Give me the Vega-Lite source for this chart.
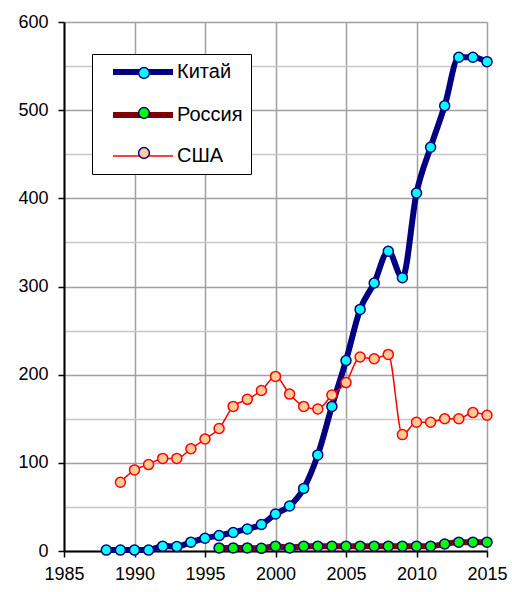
{
  "$schema": "https://vega.github.io/schema/vega-lite/v6.json",
  "width": 423,
  "height": 529,
  "autosize": {"type": "none"},
  "padding": {"left": 64, "top": 22, "right": 25, "bottom": 41},
  "background": "white",
  "config": {
    "view": {"stroke": null},
    "font": "Liberation Sans",
    "axis": {"labelFont": "Liberation Sans", "labelFontSize": 18, "labelColor": "black", "domainColor": "black", "domainWidth": 2, "tickColor": "black", "tickWidth": 1.5, "tickSize": 6, "title": null}
  },
  "data": {"values": [
    {"year": 1988, "series": "Китай", "value": 1},
    {"year": 1989, "series": "Китай", "value": 1},
    {"year": 1990, "series": "Китай", "value": 1},
    {"year": 1991, "series": "Китай", "value": 1},
    {"year": 1992, "series": "Китай", "value": 5.5},
    {"year": 1993, "series": "Китай", "value": 5},
    {"year": 1994, "series": "Китай", "value": 10},
    {"year": 1995, "series": "Китай", "value": 14.5},
    {"year": 1996, "series": "Китай", "value": 17.5},
    {"year": 1997, "series": "Китай", "value": 21},
    {"year": 1998, "series": "Китай", "value": 25},
    {"year": 1999, "series": "Китай", "value": 30},
    {"year": 2000, "series": "Китай", "value": 42},
    {"year": 2001, "series": "Китай", "value": 51},
    {"year": 2002, "series": "Китай", "value": 71},
    {"year": 2003, "series": "Китай", "value": 109},
    {"year": 2004, "series": "Китай", "value": 164},
    {"year": 2005, "series": "Китай", "value": 216},
    {"year": 2006, "series": "Китай", "value": 274},
    {"year": 2007, "series": "Китай", "value": 304},
    {"year": 2008, "series": "Китай", "value": 340},
    {"year": 2009, "series": "Китай", "value": 310},
    {"year": 2010, "series": "Китай", "value": 406},
    {"year": 2011, "series": "Китай", "value": 458},
    {"year": 2012, "series": "Китай", "value": 505},
    {"year": 2013, "series": "Китай", "value": 560},
    {"year": 2014, "series": "Китай", "value": 560},
    {"year": 2015, "series": "Китай", "value": 555},
    {"year": 1996, "series": "Россия", "value": 3.5},
    {"year": 1997, "series": "Россия", "value": 3.5},
    {"year": 1998, "series": "Россия", "value": 3.5},
    {"year": 1999, "series": "Россия", "value": 3},
    {"year": 2000, "series": "Россия", "value": 5.5},
    {"year": 2001, "series": "Россия", "value": 3.5},
    {"year": 2002, "series": "Россия", "value": 5.5},
    {"year": 2003, "series": "Россия", "value": 5.5},
    {"year": 2004, "series": "Россия", "value": 5.5},
    {"year": 2005, "series": "Россия", "value": 5.5},
    {"year": 2006, "series": "Россия", "value": 5.5},
    {"year": 2007, "series": "Россия", "value": 5.5},
    {"year": 2008, "series": "Россия", "value": 5.5},
    {"year": 2009, "series": "Россия", "value": 5.5},
    {"year": 2010, "series": "Россия", "value": 5.5},
    {"year": 2011, "series": "Россия", "value": 5.5},
    {"year": 2012, "series": "Россия", "value": 8},
    {"year": 2013, "series": "Россия", "value": 10},
    {"year": 2014, "series": "Россия", "value": 10},
    {"year": 2015, "series": "Россия", "value": 10},
    {"year": 1989, "series": "США", "value": 78},
    {"year": 1990, "series": "США", "value": 92},
    {"year": 1991, "series": "США", "value": 98},
    {"year": 1992, "series": "США", "value": 105},
    {"year": 1993, "series": "США", "value": 105},
    {"year": 1994, "series": "США", "value": 116},
    {"year": 1995, "series": "США", "value": 127},
    {"year": 1996, "series": "США", "value": 139},
    {"year": 1997, "series": "США", "value": 164},
    {"year": 1998, "series": "США", "value": 172},
    {"year": 1999, "series": "США", "value": 182},
    {"year": 2000, "series": "США", "value": 198},
    {"year": 2001, "series": "США", "value": 178},
    {"year": 2002, "series": "США", "value": 164},
    {"year": 2003, "series": "США", "value": 161},
    {"year": 2004, "series": "США", "value": 177},
    {"year": 2005, "series": "США", "value": 191},
    {"year": 2006, "series": "США", "value": 220},
    {"year": 2007, "series": "США", "value": 218},
    {"year": 2008, "series": "США", "value": 223},
    {"year": 2009, "series": "США", "value": 132},
    {"year": 2010, "series": "США", "value": 146},
    {"year": 2011, "series": "США", "value": 146},
    {"year": 2012, "series": "США", "value": 150},
    {"year": 2013, "series": "США", "value": 150},
    {"year": 2014, "series": "США", "value": 157},
    {"year": 2015, "series": "США", "value": 154}
  ]},
  "encoding": {
    "x": {"field": "year", "type": "quantitative",
      "scale": {"domain": [1985, 2015], "nice": false, "zero": false},
      "axis": {"values": [1985, 1990, 1995, 2000, 2005, 2010, 2015], "format": "d", "grid": true, "gridColor": "#a0a0a0", "gridWidth": 1.5, "labelPadding": 8, "labelFlush": false}},
    "y": {"field": "value", "type": "quantitative",
      "scale": {"domain": [0, 600], "nice": false},
      "axis": {"values": [0, 50, 100, 150, 200, 250, 300, 350, 400, 450, 500, 550, 600],
        "labelExpr": "datum.value % 100 === 0 ? datum.label : ''",
        "grid": true,
        "gridColor": {"condition": {"test": "datum.value % 100 === 0", "value": "#a0a0a0"}, "value": "#c8c8c8"},
        "gridWidth": 1.5,
        "tickOpacity": {"condition": {"test": "datum.value % 100 === 0", "value": 1}, "value": 0},
        "labelPadding": 10, "labelFlush": false}}
  },
  "layer": [
    {
      "mark": {"type": "line", "interpolate": "monotone"},
      "encoding": {
        "color": {"field": "series", "type": "nominal",
          "scale": {"domain": ["Китай", "Россия", "США"], "range": ["#000080", "#800000", "#ff0000"]},
          "legend": {"orient": "none", "legendX": 28, "legendY": 32, "title": null,
            "symbolType": "M-3,0H3", "symbolSize": 400, "rowPadding": 19,
            "padding": 8, "symbolOffset": 33, "labelOffset": 24,
            "labelFont": "Liberation Sans", "labelFontSize": 20, "labelColor": "black",
            "labelExpr": "datum.label + '   '",
            "strokeColor": "black", "fillColor": "white",
            "encode": {"symbols": {"update": {"strokeWidth": {"signal": "datum.value === 'США' ? 1.5 : 6"}}}}}},
        "strokeWidth": {"condition": {"test": "datum.series === 'США'", "value": 1.5}, "value": 6}
      }
    },
    {
      "mark": {"type": "point", "filled": true, "size": 100, "strokeWidth": 1.5, "opacity": 1},
      "encoding": {
        "fill": {"field": "series", "type": "nominal",
          "scale": {"range": ["#00ffff", "#00ff00", "#ffcc99"]},
          "legend": {"orient": "none", "legendX": 28, "legendY": 32, "title": null,
            "symbolType": "M-0.54,0A0.54,0.54,0,1,1,0.54,0A0.54,0.54,0,1,1,-0.54,0Z",
            "symbolSize": 400, "rowPadding": 19,
            "padding": 8, "symbolOffset": 33, "labelOffset": 24,
            "labelFont": "Liberation Sans", "labelFontSize": 20, "labelExpr": "''",
            "symbolStrokeWidth": 1.5, "symbolOpacity": 1,
            "encode": {"symbols": {"update": {"stroke": {"signal": "datum.value === 'США' ? '#ff0000' : '#000080'"}, "strokeWidth": {"value": 1.5}}}}}},
        "stroke": {"condition": {"test": "datum.series === 'США'", "value": "#ff0000"}, "value": "#000080"}
      }
    }
  ]
}
